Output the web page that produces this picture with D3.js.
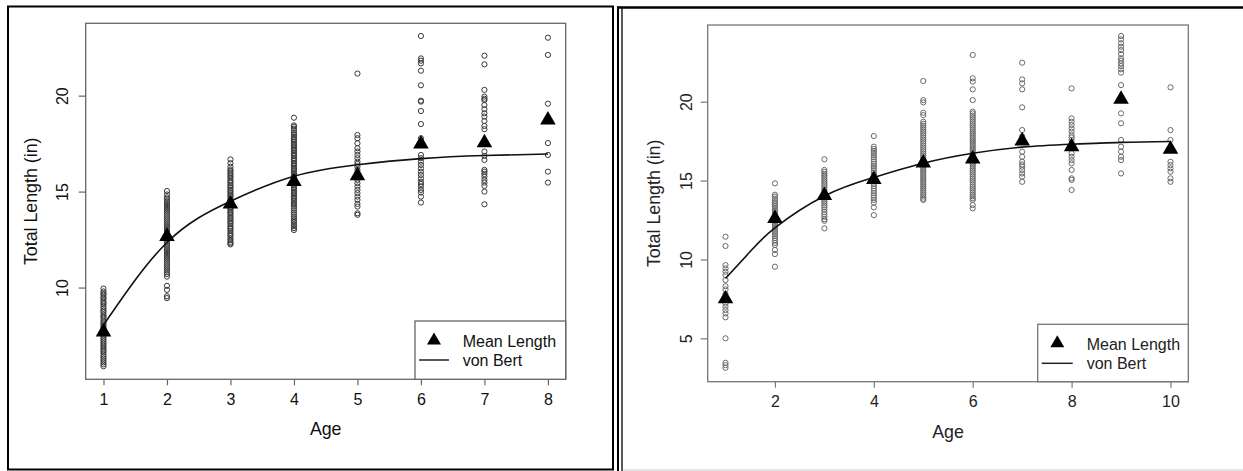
<!DOCTYPE html>
<html>
<head>
<meta charset="utf-8">
<script src="https://cdn.jsdelivr.net/npm/d3@7"></script>
<style>
  html, body { margin: 0; padding: 0; background: #fff; }
  svg { display: block; font-family: "Liberation Sans", Arial, Helvetica, sans-serif; }
</style>
</head>
<body>
<svg id="chart" width="1243" height="471"></svg>
<script>
// ---------------- DATA ----------------
const legendLabels = ["Mean Length", "von Bert"];
const xTitle = "Age";
const yTitle = "Total Length (in)";

// Left panel
const leftAges = [1, 2, 3, 4, 5, 6, 7, 8];
const leftXTicks = [1, 2, 3, 4, 5, 6, 7, 8];
const leftYTicks = [10, 15, 20];
const leftLengths = [
  [9.95, 9.8, 9.7, 9.62, 9.5, 9.42, 9.3, 9.2, 9.12, 9.0, 8.9, 8.8, 8.72, 8.6, 8.5, 8.42, 8.3, 8.2, 8.1, 8.0, 7.9, 7.82, 7.7, 7.6, 7.5, 7.4, 7.3, 7.2, 7.1, 7.0, 6.9, 6.8, 6.7, 6.62, 6.5, 6.4, 6.3, 6.2, 6.1, 6.0, 5.9],
  [15.03, 14.85, 14.7, 14.6, 14.5, 14.4, 14.3, 14.2, 14.1, 14.0, 13.9, 13.8, 13.7, 13.6, 13.5, 13.4, 13.3, 13.2, 13.1, 13.0, 12.9, 12.8, 12.7, 12.6, 12.5, 12.4, 12.3, 12.2, 12.1, 12.0, 11.9, 11.8, 11.7, 11.6, 11.5, 11.4, 11.3, 11.2, 11.1, 11.0, 10.9, 10.8, 10.7, 10.57, 10.09, 9.88, 9.55, 9.45],
  [16.68, 16.48, 16.3, 16.15, 16.08, 15.98, 15.9, 15.8, 15.72, 15.6, 15.52, 15.45, 15.35, 15.28, 15.2, 15.1, 15.02, 14.95, 14.85, 14.78, 14.7, 14.6, 14.52, 14.45, 14.38, 14.3, 14.2, 14.12, 14.05, 13.95, 13.88, 13.8, 13.7, 13.62, 13.55, 13.45, 13.38, 13.3, 13.2, 13.12, 13.05, 12.95, 12.85, 12.75, 12.68, 12.55, 12.48, 12.38, 12.3, 12.25],
  [18.85, 18.45, 18.38, 18.28, 18.18, 18.05, 17.95, 17.85, 17.75, 17.68, 17.6, 17.5, 17.42, 17.35, 17.25, 17.18, 17.1, 17.0, 16.92, 16.85, 16.75, 16.68, 16.6, 16.5, 16.42, 16.35, 16.25, 16.18, 16.1, 16.0, 15.92, 15.85, 15.75, 15.68, 15.6, 15.5, 15.42, 15.35, 15.25, 15.18, 15.1, 15.0, 14.92, 14.85, 14.75, 14.68, 14.6, 14.5, 14.4, 14.32, 14.22, 14.12, 14.02, 13.9, 13.8, 13.7, 13.6, 13.5, 13.42, 13.3, 13.2, 13.1, 13.0],
  [21.15, 17.95, 17.78, 17.52, 17.26, 17.09, 16.91, 16.74, 16.56, 16.44, 16.3, 16.13, 15.96, 15.78, 15.61, 15.44, 15.26, 15.09, 14.92, 14.74, 14.57, 14.36, 14.22, 13.87, 13.79],
  [23.11, 21.94, 21.82, 21.68, 21.3, 20.54, 19.74, 19.69, 19.2, 18.52, 17.78, 16.91, 16.74, 16.56, 16.39, 16.21, 16.04, 15.87, 15.69, 15.52, 15.4, 15.26, 15.09, 14.95, 14.74, 14.43],
  [22.08, 21.63, 20.3, 19.95, 19.84, 19.77, 19.51, 19.29, 19.08, 18.91, 18.68, 18.42, 18.25, 17.09, 16.86, 16.65, 16.13, 16.04, 15.92, 15.78, 15.61, 15.47, 15.3, 15.0, 14.34],
  [23.02, 22.12, 19.58, 17.53, 16.91, 16.04, 15.47]
];
const leftMeans = [7.69, 12.66, 14.36, 15.52, 15.83, 17.48, 17.55, 18.73];
const leftVbAges = [1, 2, 3, 4, 5, 6, 7, 8];
const leftVbLengths = [8.05, 12.35, 14.5, 15.8, 16.4, 16.72, 16.88, 16.96];

// Right panel
const rightAges = [1, 2, 3, 4, 5, 6, 7, 8, 9, 10];
const rightXTicks = [2, 4, 6, 8, 10];
const rightYTicks = [5, 10, 15, 20];
const rightLengths = [
  [11.44, 10.85, 9.64, 9.43, 9.22, 9.01, 8.69, 8.3, 8.1, 7.8, 7.2, 7.0, 6.79, 6.58, 6.33, 5.0, 3.45, 3.3, 3.13],
  [14.82, 14.1, 13.98, 13.85, 13.72, 13.6, 13.5, 13.38, 13.25, 13.12, 13.0, 12.88, 12.75, 12.62, 12.5, 12.38, 12.25, 12.12, 12.0, 11.88, 11.75, 11.6, 11.48, 11.35, 11.2, 11.05, 10.91, 10.6, 10.34, 9.54],
  [16.35, 15.67, 15.55, 15.42, 15.3, 15.18, 15.05, 14.92, 14.8, 14.68, 14.55, 14.42, 14.3, 14.18, 14.05, 13.92, 13.8, 13.68, 13.55, 13.42, 13.3, 13.15, 13.0, 12.85, 12.7, 12.55, 12.45, 11.97],
  [17.82, 17.15, 17.0, 16.88, 16.75, 16.6, 16.48, 16.35, 16.2, 16.05, 15.92, 15.8, 15.65, 15.5, 15.38, 15.22, 15.1, 14.95, 14.8, 14.65, 14.5, 14.35, 14.2, 14.05, 13.92, 13.77, 13.6, 13.3, 12.81],
  [21.31, 20.1, 19.95, 19.3, 19.15, 18.73, 18.6, 18.48, 18.35, 18.22, 18.1, 17.98, 17.85, 17.72, 17.6, 17.48, 17.35, 17.22, 17.1, 16.98, 16.85, 16.72, 16.6, 16.48, 16.35, 16.22, 16.1, 15.98, 15.85, 15.72, 15.6, 15.48, 15.35, 15.22, 15.1, 14.98, 14.85, 14.72, 14.6, 14.48, 14.35, 14.22, 14.1, 13.98, 13.85, 13.77],
  [22.96, 21.48, 21.27, 20.78, 20.1, 19.37, 19.25, 19.12, 19.0, 18.88, 18.75, 18.62, 18.5, 18.38, 18.25, 18.12, 18.0, 17.88, 17.75, 17.62, 17.5, 17.38, 17.25, 17.12, 17.0, 16.88, 16.75, 16.62, 16.5, 16.38, 16.25, 16.12, 16.0, 15.88, 15.75, 15.62, 15.5, 15.38, 15.25, 15.12, 15.0, 14.88, 14.75, 14.62, 14.5, 14.38, 14.25, 14.12, 14.0, 13.88, 13.77, 13.45, 13.24],
  [22.47, 21.41, 21.16, 20.78, 19.64, 18.2, 17.8, 16.83, 16.51, 16.19, 16.02, 15.88, 15.67, 15.45, 15.25, 14.92],
  [20.84, 18.94, 18.73, 18.52, 18.3, 18.1, 17.88, 17.73, 17.57, 16.73, 16.51, 16.3, 16.09, 15.67, 15.14, 15.04, 14.4],
  [24.16, 23.95, 23.7, 23.48, 23.27, 23.02, 22.75, 22.6, 22.43, 22.26, 22.05, 21.84, 21.05, 19.26, 18.63, 17.57, 17.15, 16.83, 16.51, 16.3, 15.45],
  [20.91, 18.2, 17.57, 16.19, 15.98, 15.77, 15.56, 15.14, 14.92]
];
const rightMeans = [7.5, 12.6, 14.05, 15.06, 16.11, 16.37, 17.5, 17.15, 20.15, 16.98];
const rightVbAges = [1, 1.5, 2, 3, 4, 5, 6, 7, 8, 9, 10];
const rightVbLengths = [8.8, 10.5, 12.0, 14.02, 15.2, 16.1, 16.73, 17.12, 17.3, 17.42, 17.48];

// ---------------- DRAWING ----------------
const svg = d3.select("#chart");
svg.append("rect").attr("width", 1243).attr("height", 471).attr("fill", "#fff");

function drawPanel(cfg) {
  const g = svg.append("g");
  const x = d3.scaleLinear().domain(cfg.xDomain).range([cfg.left, cfg.right]);
  const y = d3.scaleLinear().domain(cfg.yDomain).range([cfg.bottom, cfg.top]);

  // points
  const pts = [];
  cfg.ages.forEach((a, i) => cfg.lengths[i].forEach(v => pts.push({ a, v })));
  g.append("g").selectAll("circle").data(pts).join("circle")
    .attr("cx", d => x(d.a)).attr("cy", d => y(d.v)).attr("r", 2.6)
    .attr("fill", "none").attr("stroke", cfg.pointColor).attr("stroke-width", 1);

  // von Bert curve
  const line = d3.line().x(d => x(d[0])).y(d => y(d[1])).curve(d3.curveNatural);
  g.append("path").datum(cfg.vbAges.map((a, i) => [a, cfg.vbLengths[i]]))
    .attr("d", line).attr("fill", "none").attr("stroke", "#111").attr("stroke-width", 1.6);

  // mean triangles
  const tri = d3.symbol().type(d3.symbolTriangle).size(105);
  g.append("g").selectAll("path").data(cfg.ages.map((a, i) => [a, cfg.means[i]])).join("path")
    .attr("d", tri).attr("transform", d => `translate(${x(d[0])},${y(d[1])})`)
    .attr("fill", "#000");

  // box
  g.append("rect").attr("x", cfg.left).attr("y", cfg.top)
    .attr("width", cfg.right - cfg.left).attr("height", cfg.bottom - cfg.top)
    .attr("fill", "none").attr("stroke", cfg.boxColor).attr("stroke-width", 1.3);

  // x axis
  const xAxis = d3.axisBottom(x).tickValues(cfg.xTicks).tickSize(6).tickPadding(8).tickFormat(d3.format("d"));
  const xg = g.append("g").attr("transform", `translate(0,${cfg.bottom})`).call(xAxis);
  xg.select(".domain").remove();
  xg.selectAll(".tick line").attr("stroke", cfg.boxColor).attr("stroke-width", 1.2);
  xg.selectAll(".tick text").attr("font-size", 16).attr("fill", cfg.textColor)
    .attr("font-family", "'Liberation Sans', Arial, sans-serif");

  // y axis
  const yAxis = d3.axisLeft(y).tickValues(cfg.yTicks).tickSize(7).tickFormat(d3.format("d"));
  const yg = g.append("g").attr("transform", `translate(${cfg.left},0)`).call(yAxis);
  yg.select(".domain").remove();
  yg.selectAll(".tick line").attr("stroke", cfg.boxColor).attr("stroke-width", 1.2);
  yg.selectAll(".tick text")
    .attr("x", 0).attr("dy", null).attr("y", 0)
    .attr("text-anchor", "middle")
    .attr("transform", `translate(${cfg.yLabelX - cfg.left},0) rotate(-90)`)
    .attr("font-size", 16).attr("fill", cfg.textColor)
    .attr("font-family", "'Liberation Sans', Arial, sans-serif");

  // titles
  g.append("text").attr("x", (cfg.left + cfg.right) / 2).attr("y", cfg.xTitleY)
    .attr("text-anchor", "middle").attr("font-size", 17.8).attr("fill", cfg.textColor).text(xTitle);
  g.append("text").attr("transform", `translate(${cfg.yTitleX},${(cfg.top + cfg.bottom) / 2}) rotate(-90)`)
    .attr("text-anchor", "middle").attr("font-size", 17.8).attr("fill", cfg.textColor).text(yTitle);

  // legend
  const L = cfg.legend;
  g.append("rect").attr("x", L.x0).attr("y", L.y0).attr("width", cfg.right - L.x0).attr("height", cfg.bottom - L.y0)
    .attr("fill", "#fff").attr("stroke", cfg.boxColor).attr("stroke-width", 1.3);
  g.append("path").attr("d", d3.symbol().type(d3.symbolTriangle).size(85))
    .attr("transform", `translate(${L.symX},${L.row1})`).attr("fill", "#000");
  g.append("line").attr("x1", L.lineX0).attr("x2", L.lineX1).attr("y1", L.row2).attr("y2", L.row2)
    .attr("stroke", "#222").attr("stroke-width", 1.5);
  g.append("text").attr("x", L.textX).attr("y", L.row1 + 6.5).attr("font-size", 16)
    .attr("fill", cfg.textColor).text(legendLabels[0]);
  g.append("text").attr("x", L.textX).attr("y", L.row2 + 6).attr("font-size", 16)
    .attr("fill", cfg.textColor).text(legendLabels[1]);
}

drawPanel({
  ages: leftAges, lengths: leftLengths, means: leftMeans,
  vbAges: leftVbAges, vbLengths: leftVbLengths,
  xTicks: leftXTicks, yTicks: leftYTicks,
  xDomain: [0.72, 8.28], yDomain: [5.22, 23.77],
  left: 85.7, right: 565.7, top: 23.3, bottom: 379.3,
  yLabelX: 68, yTitleX: 37, xTitleY: 435,
  pointColor: "#3a3a3a", boxColor: "#666", textColor: "#111",
  legend: { x0: 415, y0: 321, symX: 434, row1: 340.5, row2: 360, lineX0: 419, lineX1: 449, textX: 462.7 }
});

drawPanel({
  ages: rightAges, lengths: rightLengths, means: rightMeans,
  vbAges: rightVbAges, vbLengths: rightVbLengths,
  xTicks: rightXTicks, yTicks: rightYTicks,
  xDomain: [0.64, 10.36], yDomain: [2.25, 24.86],
  left: 707.7, right: 1188.3, top: 25, bottom: 381.7,
  yLabelX: 692, yTitleX: 660, xTitleY: 438,
  pointColor: "#6a6a6a", boxColor: "#777", textColor: "#222",
  legend: { x0: 1037.7, y0: 324.3, symX: 1057.3, row1: 343.3, row2: 363.3, lineX0: 1041.7, lineX1: 1072.7, textX: 1086.7 }
});

// outer frames
svg.append("rect").attr("x", 8).attr("y", 6.5).attr("width", 605).attr("height", 463)
  .attr("fill", "none").attr("stroke", "#000").attr("stroke-width", 2);
svg.append("line").attr("x1", 617).attr("x2", 1243).attr("y1", 7.5).attr("y2", 7.5)
  .attr("stroke", "#000").attr("stroke-width", 2.5);
svg.append("line").attr("x1", 618).attr("x2", 618).attr("y1", 6.5).attr("y2", 471)
  .attr("stroke", "#000").attr("stroke-width", 2);
svg.append("line").attr("x1", 622).attr("x2", 622).attr("y1", 6.5).attr("y2", 471)
  .attr("stroke", "#000").attr("stroke-width", 1.3);
svg.append("line").attr("x1", 623).attr("x2", 1243).attr("y1", 470).attr("y2", 470)
  .attr("stroke", "#ddd").attr("stroke-width", 1.5);
</script>
</body>
</html>
